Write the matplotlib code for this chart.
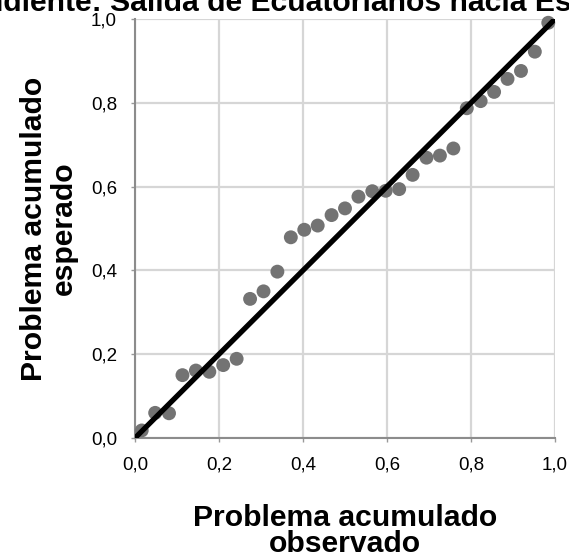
import matplotlib.pyplot as plt

plt.rcParams['font.family'] = ['Liberation Sans', 'DejaVu Sans']

observado = [0.016, 0.048, 0.081, 0.113, 0.145, 0.177, 0.210, 0.242, 0.274, 0.306,
             0.339, 0.371, 0.403, 0.435, 0.468, 0.500, 0.532, 0.565, 0.597, 0.629,
             0.661, 0.694, 0.726, 0.758, 0.790, 0.823, 0.855, 0.887, 0.919, 0.952,
             0.984]
esperado = [0.018, 0.060, 0.059, 0.150, 0.161, 0.158, 0.174, 0.189, 0.332, 0.350,
            0.397, 0.479, 0.497, 0.507, 0.532, 0.548, 0.576, 0.589, 0.590, 0.594,
            0.628, 0.669, 0.674, 0.691, 0.787, 0.804, 0.826, 0.857, 0.876, 0.922,
            0.991]
ticks = [0.0, 0.2, 0.4, 0.6, 0.8, 1.0]
tick_labels = ["0,0", "0,2", "0,4", "0,6", "0,8", "1,0"]
titulo = "Variable dependiente: Salida de Ecuatorianos hacia España"
prefijo = "Variable depen"

W, H = 569, 555
fs = 21.7
fig = plt.figure(figsize=(W / 100, H / 100), dpi=100)
ax = fig.add_axes([135 / W, 117 / H, 420 / W, 419 / H])

ax.scatter(observado, esperado, s=100, color="#737373", edgecolor="none",
           zorder=3, clip_on=False)
ax.plot([0, 1], [0, 1], color="black", lw=3.8, zorder=4,
        solid_capstyle="butt")

ax.set_xlim(0, 1)
ax.set_ylim(0, 1)
ax.set_xticks(ticks)
ax.set_yticks(ticks)
ax.set_xticklabels(tick_labels)
ax.set_yticklabels(tick_labels)
ax.tick_params(labelsize=13.5, length=3, color="#999999", width=1, pad=10)
ax.grid(True, color="#d6d6d6", lw=1.6, zorder=0)
ax.set_axisbelow(True)
for s in ["top", "right"]:
    ax.spines[s].set_visible(False)
for s in ["left", "bottom"]:
    ax.spines[s].set_color("#8c8c8c")
    ax.spines[s].set_linewidth(1.5)

ax.set_xlabel("Problema acumulado\nobservado", fontsize=fs, fontweight="bold",
              labelpad=22, linespacing=0.93)
ax.set_ylabel("Problema acumulado\nesperado", fontsize=fs, fontweight="bold",
              labelpad=9, linespacing=1.12)

# titulo recortado arriba: se coloca para que "diente" empiece en el borde
r = fig.canvas.get_renderer()
t = fig.text(0, 0, prefijo, fontsize=fs, fontweight="bold")
w = t.get_window_extent(renderer=r).width
t.remove()
fig.text((3 - w) / W, (H - 11) / H, titulo, fontsize=fs, fontweight="bold",
         ha="left", va="baseline")

fig.savefig("out.png", dpi=100)
